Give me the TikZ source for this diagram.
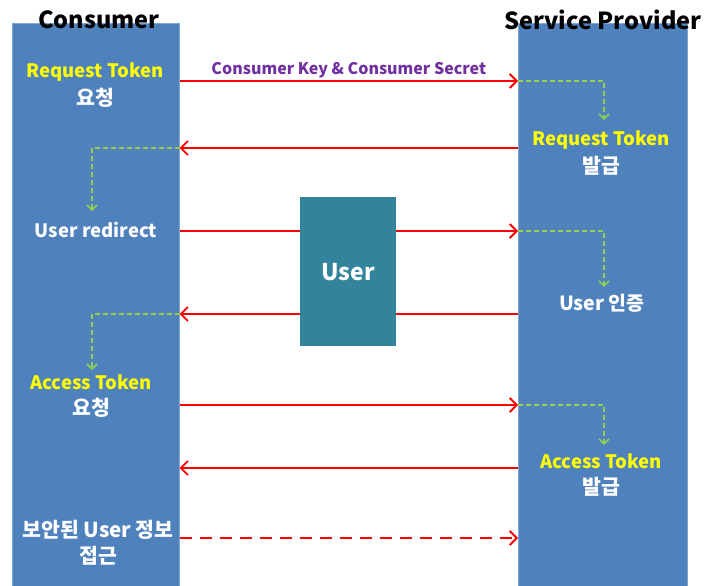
\documentclass[tikz,border=0pt]{standalone}
\usepackage{fontspec}
\setmainfont{Noto Sans CJK KR}
\usetikzlibrary{arrows.meta}
\definecolor{lane}{HTML}{4F81BD}
\definecolor{userbox}{HTML}{31849B}
\definecolor{flow}{HTML}{FF0000}
\definecolor{inner}{HTML}{92D050}
\definecolor{keylbl}{HTML}{7030A0}
\definecolor{tok}{HTML}{FFFF00}
\tikzset{
  lanebox/.style={fill=lane, draw=lane!70!white, line width=0.6pt, inner sep=0, anchor=north west},
  title/.style={font=\fontsize{23.5}{26}\selectfont\bfseries, text=black},
  tokentxt/.style={font=\fontsize{18.5}{21}\selectfont\bfseries, text=tok},
  plaintxt/.style={font=\fontsize{18.5}{21}\selectfont\bfseries, text=white, align=center},
  hangul/.style={plaintxt, font=\fontsize{20.5}{22}\selectfont\bfseries},
  msg/.style={draw=flow, line width=1.8pt, -{Straight Barb[length=7pt, width=14pt, line width=1.8pt]}},
  msgline/.style={draw=flow, line width=1.8pt},
  msgdash/.style={msg, dash pattern=on 12pt off 8pt},
  hop/.style={draw=inner, line width=1.5pt, dash pattern=on 5pt off 3pt,
    -{Straight Barb[length=5pt, width=10pt, line width=1.5pt]}},
}
\begin{document}
\begin{tikzpicture}[x=1pt, y=-1pt]
\useasboundingbox (0,0) rectangle (720,586);

% lanes and the user box
\node[lanebox, minimum width=167pt, minimum height=564pt] (cons) at (12,23) {};
\node[lanebox, minimum width=169pt, minimum height=564pt] (prov) at (518,23) {};
\node[fill=userbox, inner sep=0, minimum width=96pt, minimum height=149pt, anchor=north west,
      font=\fontsize{23}{25}\selectfont\bfseries, text=white] (user) at (300,197) {User};

% lane titles
\node[title] (tcons) at (99,20) {Consumer};
\node[title] (tprov) at (603,20) {Service Provider};

% consumer side labels
\node[tokentxt] (c1a) at (95,72) {Request Token};
\node[hangul] (c1b) at (95,98) {요청};
\node[plaintxt] (c2) at (96,230) {User redirect};
\node[tokentxt] (c3a) at (91,382) {Access Token};
\node[hangul] (c3b) at (91,408) {요청};
\node[hangul] (c4a) at (98,530) {보안된 User 정보};
\node[hangul] (c4b) at (98,556) {접근};

% provider side labels
\node[tokentxt] (p1a) at (601,140) {Request Token};
\node[hangul] (p1b) at (601,166) {발급};
\node[plaintxt, font=\fontsize{19.5}{21}\selectfont\bfseries] (p2) at (602,303) {User 인증};
\node[tokentxt] (p3a) at (601,461) {Access Token};
\node[hangul] (p3b) at (601,487) {발급};

% message rows
\coordinate (r1) at (0,81);
\coordinate (r2) at (0,148);
\coordinate (r3) at (0,231);
\coordinate (r4) at (0,314);
\coordinate (r5) at (0,405);
\coordinate (r6) at (0,468);
\coordinate (r7) at (0,538);

\draw[msg] (cons.east |- r1) -- node[above=-1pt, font=\fontsize{16}{18}\selectfont\bfseries, text=keylbl] {Consumer Key \& Consumer Secret} (prov.west |- r1);
\draw[msg] (prov.west |- r2) -- (cons.east |- r2);
\draw[msgline] (cons.east |- r3) -- (user.west |- r3);
\draw[msg] (user.east |- r3) -- (prov.west |- r3);
\draw[msgline] (prov.west |- r4) -- (user.east |- r4);
\draw[msg] (user.west |- r4) -- (cons.east |- r4);
\draw[msg] (cons.east |- r5) -- (prov.west |- r5);
\draw[msg] (prov.west |- r6) -- (cons.east |- r6);
\draw[msgdash] (cons.east |- r7) -- (prov.west |- r7);

% internal hand-offs
\coordinate (h1) at (604,120);
\coordinate (h2) at (92,211);
\coordinate (h3) at (604,287);
\coordinate (h4) at (92,370);
\coordinate (h5) at (604,445);
\draw[hop] (prov.west |- r1) -| (h1);
\draw[hop] (cons.east |- r2) -| (h2);
\draw[hop] (prov.west |- r3) -| (h3);
\draw[hop] (cons.east |- r4) -| (h4);
\draw[hop] (prov.west |- r5) -| (h5);
\end{tikzpicture}
\end{document}
